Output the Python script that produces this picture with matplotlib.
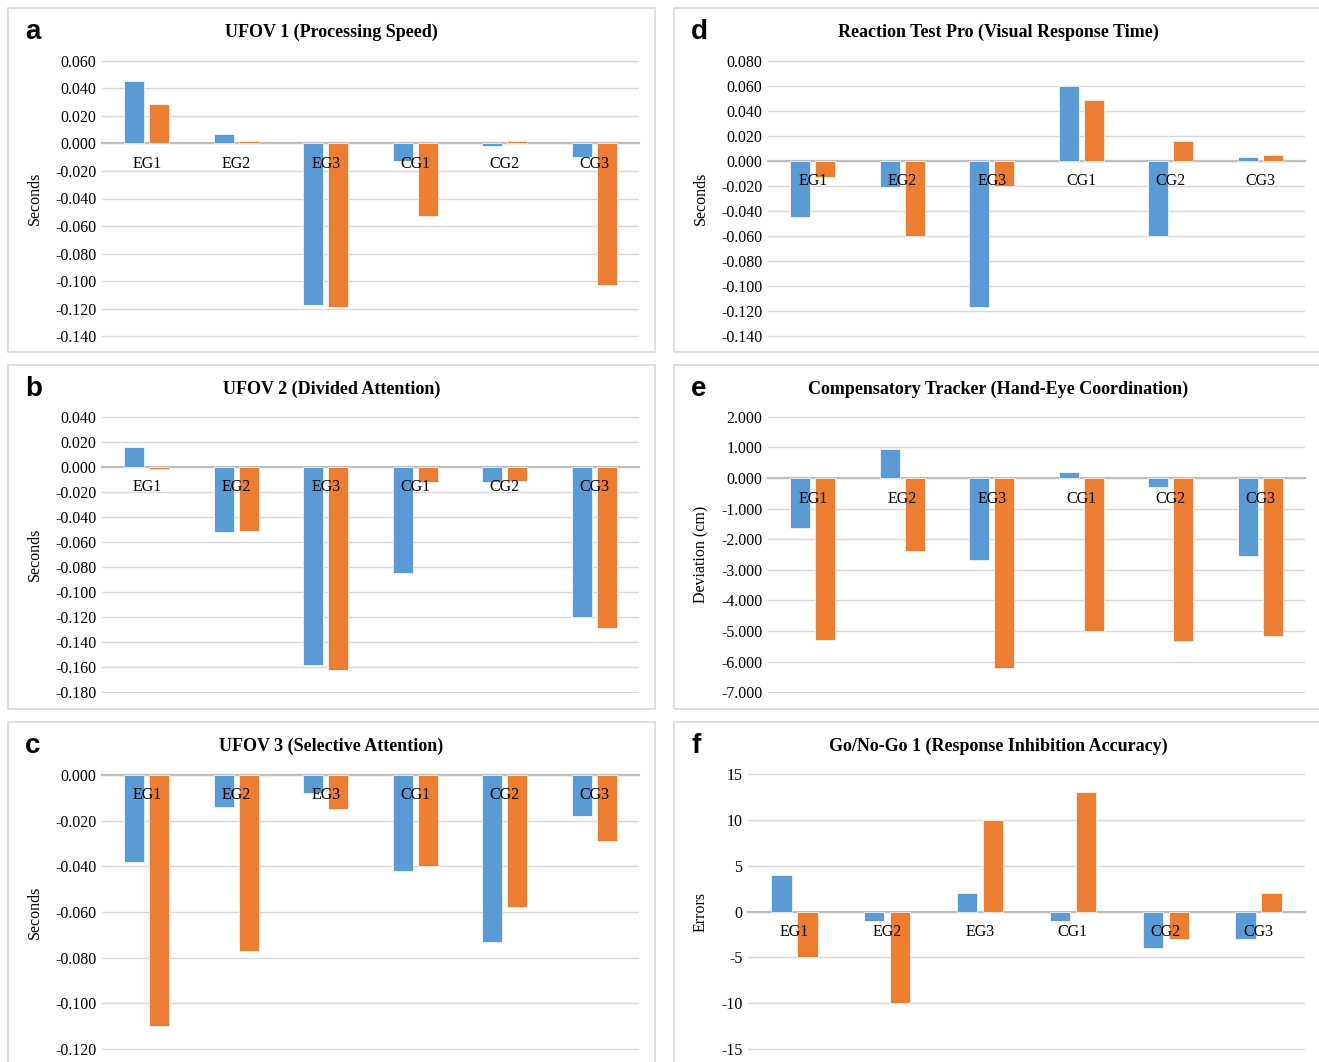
import matplotlib.pyplot as plt
import numpy as np
from matplotlib.patches import Rectangle
from matplotlib.ticker import FuncFormatter

W, H = 1319, 1062

categories = ["EG1", "EG2", "EG3", "CG1", "CG2", "CG3"]

# panel a - UFOV 1
ufov1_blue = [0.045, 0.007, -0.117, -0.013, -0.002, -0.010]
ufov1_orange = [0.029, 0.002, -0.119, -0.053, 0.002, -0.103]
# panel b - UFOV 2
ufov2_blue = [0.016, -0.052, -0.158, -0.085, -0.012, -0.120]
ufov2_orange = [-0.002, -0.051, -0.162, -0.012, -0.011, -0.129]
# panel c - UFOV 3
ufov3_blue = [-0.038, -0.014, -0.008, -0.042, -0.073, -0.018]
ufov3_orange = [-0.110, -0.077, -0.015, -0.040, -0.058, -0.029]
# panel d - reaction test
react_blue = [-0.045, -0.021, -0.117, 0.060, -0.060, 0.003]
react_orange = [-0.013, -0.060, -0.020, 0.049, 0.016, 0.005]
# panel e - compensatory tracker
track_blue = [-1.65, 0.95, -2.68, 0.20, -0.30, -2.55]
track_orange = [-5.30, -2.38, -6.20, -5.00, -5.33, -5.15]
# panel f - go/no-go
gonogo_blue = [4, -1, 2, -1, -4, -3]
gonogo_orange = [-5, -10, 10, 13, -3, 2]

BLUE = "#5B9BD5"
ORANGE = "#ED7D31"
SERIF = "Liberation Serif"

# letter, title, ylabel, blue, orange, (ymin, ymax, step), decimals,
# box (left, top, right, bottom), plot (left, top, right, bottom) in px
panels = [
    ("a", "UFOV 1 (Processing Speed)", "Seconds", ufov1_blue, ufov1_orange,
     (-0.14, 0.06, 0.02), 3, (8, 8, 655, 352), (102, 60, 639, 337)),
    ("b", "UFOV 2 (Divided Attention)", "Seconds", ufov2_blue, ufov2_orange,
     (-0.18, 0.04, 0.02), 3, (8, 365, 655, 709), (102, 416, 639, 693)),
    ("c", "UFOV 3 (Selective Attention)", "Seconds", ufov3_blue, ufov3_orange,
     (-0.12, 0.0, 0.02), 3, (8, 722, 655, 1080), (102, 774, 639, 1050)),
    ("d", "Reaction Test Pro (Visual Response Time)", "Seconds", react_blue, react_orange,
     (-0.14, 0.08, 0.02), 3, (674, 8, 1322, 352), (768, 60, 1305, 337)),
    ("e", "Compensatory Tracker (Hand-Eye Coordination)", "Deviation (cm)", track_blue, track_orange,
     (-7, 2, 1), 3, (674, 365, 1322, 709), (768, 416, 1305, 693)),
    ("f", "Go/No-Go 1 (Response Inhibition Accuracy)", "Errors", gonogo_blue, gonogo_orange,
     (-15, 15, 5), 0, (674, 722, 1322, 1080), (748, 773, 1305, 1050)),
]


def px_rect(l, t, r, b):
    return [l / W, 1 - b / H, (r - l) / W, (b - t) / H]


fig = plt.figure(figsize=(W / 100, H / 100), dpi=100)
x = np.arange(len(categories))

for letter, title, ylabel, blue, orange, (ymin, ymax, step), dec, box, plot in panels:
    bl, bt, br, bb = box
    fig.patches.append(Rectangle((bl / W, 1 - bb / H), (br - bl) / W, (bb - bt) / H,
                                 transform=fig.transFigure, fill=False,
                                 edgecolor="#d9d9d9", linewidth=1.2))
    ax = fig.add_axes(px_rect(*plot))
    ax.bar(x - 0.14, blue, 0.22, color=BLUE, edgecolor="white", linewidth=0.5, zorder=2)
    ax.bar(x + 0.14, orange, 0.22, color=ORANGE, edgecolor="white", linewidth=0.5, zorder=2)
    ax.set_xlim(-0.5, len(categories) - 0.5)
    ticks = np.round(np.arange(ymin, ymax + step / 2, step), 6)
    ax.set_yticks(ticks)
    pad = (ymax - ymin) * 0.003
    ax.set_ylim(ymin - pad, ymax + pad)
    ax.yaxis.set_major_formatter(FuncFormatter(lambda v, p, d=dec: f"{v:.{d}f}".replace("-0.000", "0.000")))
    ax.set_xticks(x)
    ax.set_xticklabels(categories)
    ax.grid(axis="y", color="#d9d9d9", linewidth=1)
    ax.set_axisbelow(True)
    ax.xaxis.set_zorder(5)
    for s in ["top", "right", "left"]:
        ax.spines[s].set_visible(False)
    ax.spines["bottom"].set_position(("data", 0))
    ax.spines["bottom"].set_color("#bfbfbf")
    ax.spines["bottom"].set_linewidth(1.6)
    ax.spines["bottom"].set_zorder(1.5)
    ax.tick_params(axis="both", length=0, labelsize=11.5)
    ax.tick_params(axis="x", pad=9)
    ax.tick_params(axis="y", pad=4)
    for lab in ax.get_xticklabels() + ax.get_yticklabels():
        lab.set_fontfamily(SERIF)

    cx = (bl + br) / 2
    fig.text(cx / W, 1 - (bt + 24) / H, title, ha="center", va="center",
             fontsize=13, fontweight="bold", family=SERIF)
    fig.text((bl + 17) / W, 1 - (bt + 24) / H, letter, ha="left", va="center",
             fontsize=20, fontweight="bold", family="Liberation Sans")
    fig.text((bl + 27) / W, 1 - ((plot[1] + plot[3]) / 2) / H, ylabel, rotation=90,
             ha="center", va="center", fontsize=11.5, family=SERIF)

fig.savefig("out.png", dpi=100)
